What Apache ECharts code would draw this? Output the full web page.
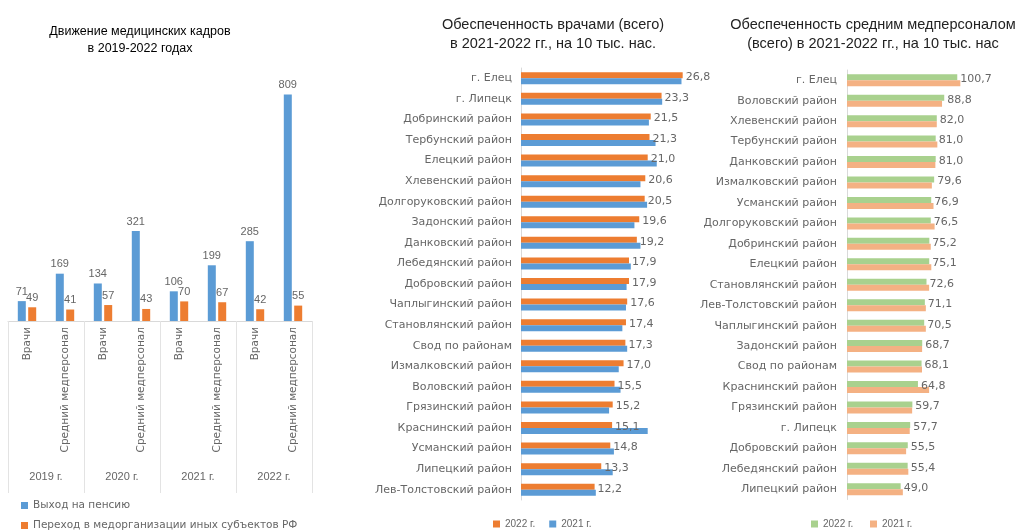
<!DOCTYPE html>
<html>
<head>
<meta charset="utf-8">
<script src="https://cdn.jsdelivr.net/npm/echarts@6/dist/echarts.min.js"></script>
<style>html,body{margin:0;padding:0;background:#fff}#c{width:1025px;height:532px}</style>
</head>
<body>
<div id="c"></div>
<script>
// ---- Left chart data ----
const moveCats = ['Врачи','Средний медперсонал','Врачи','Средний медперсонал','Врачи','Средний медперсонал','Врачи','Средний медперсонал'];
const moveYears = ['2019 г.','2020 г.','2021 г.','2022 г.'];
const pension = [71,169,134,321,106,199,285,809];
const transfer = [49,41,57,43,70,67,42,55];

// ---- Middle chart data (doctors) ----
const docCats = ['г. Елец','г. Липецк','Добринский район','Тербунский район','Елецкий район','Хлевенский район','Долгоруковский район','Задонский район','Данковский район','Лебедянский район','Добровский район','Чаплыгинский район','Становлянский район','Свод по районам','Измалковский район','Воловский район','Грязинский район','Краснинский район','Усманский район','Липецкий район','Лев-Толстовский район'];
const doc2022 = [26.8,23.3,21.5,21.3,21.0,20.6,20.5,19.6,19.2,17.9,17.9,17.6,17.4,17.3,17.0,15.5,15.2,15.1,14.8,13.3,12.2];
const doc2021 = [26.6,23.4,21.2,22.3,22.5,19.8,20.9,18.8,19.8,18.2,17.5,17.4,16.8,17.6,16.2,16.5,14.6,21.0,15.4,15.2,12.4];

// ---- Right chart data (nurses) ----
const nurCats = ['г. Елец','Воловский район','Хлевенский район','Тербунский район','Данковский район','Измалковский район','Усманский район','Долгоруковский район','Добринский район','Елецкий район','Становлянский район','Лев-Толстовский район','Чаплыгинский район','Задонский район','Свод по районам','Краснинский район','Грязинский район','г. Липецк','Добровский район','Лебедянский район','Липецкий район'];
const nur2022 = [100.7,88.8,82.0,81.0,81.0,79.6,76.9,76.5,75.2,75.1,72.6,71.1,70.5,68.7,68.1,64.8,59.7,57.7,55.5,55.4,49.0];
const nur2021 = [103.5,86.8,82.0,82.5,80.7,77.5,79.0,80.0,76.5,77.0,75.0,72.0,72.0,68.6,68.5,75.0,59.5,57.3,54.0,56.0,51.0];

const FONT = 'Liberation Sans, Arial, sans-serif';
const SMALL = 'DejaVu Sans, sans-serif';
const GRAY = '#666666';
const BLUE = '#5B9BD5', ORANGE = '#ED7D31', GREEN = '#A9D18E', PEACH = '#F4B183';
const fmt = p => p.value.toFixed(1).replace('.', ',');

const chart = echarts.init(document.getElementById('c'));
chart.setOption({
  animation: false,
  textStyle: { fontFamily: FONT },
  title: [
    { text: 'Движение медицинских кадров\nв 2019-2022 годах', left: 135, top: 18, textAlign: 'center',
      textStyle: { fontSize: 12.5, fontWeight: 'normal', color: '#000', lineHeight: 17, fontFamily: FONT } },
    { text: 'Обеспеченность врачами (всего)\nв 2021-2022 гг., на 10 тыс. нас.', left: 548, top: 10, textAlign: 'center',
      textStyle: { fontSize: 14.5, fontWeight: 'normal', color: '#222', lineHeight: 19, fontFamily: FONT } },
    { text: 'Обеспеченность средним медперсоналом\n(всего) в 2021-2022 гг., на 10 тыс. нас', left: 868, top: 10, textAlign: 'center',
      textStyle: { fontSize: 14.5, fontWeight: 'normal', color: '#222', lineHeight: 19, fontFamily: FONT } }
  ],
  legend: [
    { data: ['Выход на пенсию', 'Переход в медорганизации иных субъектов РФ'], orient: 'vertical', left: 16, top: 495, height: 40,
      itemWidth: 7, itemHeight: 7, itemGap: 9, icon: 'rect', textStyle: { fontSize: 10.5, color: GRAY, fontFamily: SMALL } },
    { data: ['2022 г.', '2021 г.'], left: 488, top: 514, itemWidth: 7, itemHeight: 7, itemGap: 14, icon: 'rect',
      textStyle: { fontSize: 10, color: GRAY } },
    { data: ['2022 г. ', '2021 г. '], left: 806, top: 514, itemWidth: 7, itemHeight: 7, itemGap: 14, icon: 'rect',
      textStyle: { fontSize: 10, color: GRAY } }
  ],
  grid: [
    { left: 8, width: 304, top: 69, height: 252 },
    { left: 521, width: 181, top: 68, height: 432 },
    { left: 847, width: 131.4, top: 70, height: 429.5 }
  ],
  xAxis: [
    { type: 'category', gridIndex: 0, data: moveCats,
      axisLine: { lineStyle: { color: '#d9d9d9' } }, axisTick: { show: false },
      axisLabel: { rotate: 90, fontSize: 10.5, color: GRAY, margin: 6, interval: 0, fontFamily: SMALL } },
    { type: 'category', gridIndex: 0, data: moveYears, position: 'bottom',
      axisLine: { show: false },
      axisTick: { show: true, length: 172, lineStyle: { color: '#e3e3e3' } },
      axisLabel: { fontSize: 11, color: GRAY, margin: 150, interval: 0 } },
    { type: 'value', gridIndex: 1, min: 0, max: 30, show: false },
    { type: 'value', gridIndex: 2, min: 0, max: 120, show: false }
  ],
  yAxis: [
    { type: 'value', gridIndex: 0, min: 0, max: 900, show: false },
    { type: 'category', gridIndex: 1, data: docCats, inverse: true,
      axisLine: { lineStyle: { color: '#d9d9d9' } }, axisTick: { show: false },
      axisLabel: { fontSize: 11, color: GRAY, margin: 9, interval: 0, fontFamily: SMALL } },
    { type: 'category', gridIndex: 2, data: nurCats, inverse: true,
      axisLine: { lineStyle: { color: '#d9d9d9' } }, axisTick: { show: false },
      axisLabel: { fontSize: 11, color: GRAY, margin: 10, interval: 0, fontFamily: SMALL } }
  ],
  series: [
    { name: 'Выход на пенсию', type: 'bar', xAxisIndex: 0, yAxisIndex: 0, data: pension,
      barWidth: 8, barGap: '30%', itemStyle: { color: BLUE },
      label: { show: true, position: 'top', distance: 4, fontSize: 11, color: GRAY } },
    { name: 'Переход в медорганизации иных субъектов РФ', type: 'bar', xAxisIndex: 0, yAxisIndex: 0, data: transfer,
      barWidth: 8, barGap: '30%', itemStyle: { color: ORANGE },
      label: { show: true, position: 'top', distance: 4, fontSize: 11, color: GRAY } },
    { name: '2022 г.', type: 'bar', xAxisIndex: 2, yAxisIndex: 1, data: doc2022,
      barWidth: 6, barGap: '0%', itemStyle: { color: ORANGE },
      label: { show: true, position: 'right', distance: 3, offset: [0, 2], fontSize: 11, color: GRAY, formatter: fmt, fontFamily: SMALL } },
    { name: '2021 г.', type: 'bar', xAxisIndex: 2, yAxisIndex: 1, data: doc2021,
      barWidth: 6, barGap: '0%', itemStyle: { color: BLUE } },
    { name: '2022 г. ', type: 'bar', xAxisIndex: 3, yAxisIndex: 2, data: nur2022,
      barWidth: 6, barGap: '0%', itemStyle: { color: GREEN },
      label: { show: true, position: 'right', distance: 3, offset: [0, 2], fontSize: 11, color: GRAY, formatter: fmt, fontFamily: SMALL } },
    { name: '2021 г. ', type: 'bar', xAxisIndex: 3, yAxisIndex: 2, data: nur2021,
      barWidth: 6, barGap: '0%', itemStyle: { color: PEACH } }
  ]
});
</script>
</body>
</html>
